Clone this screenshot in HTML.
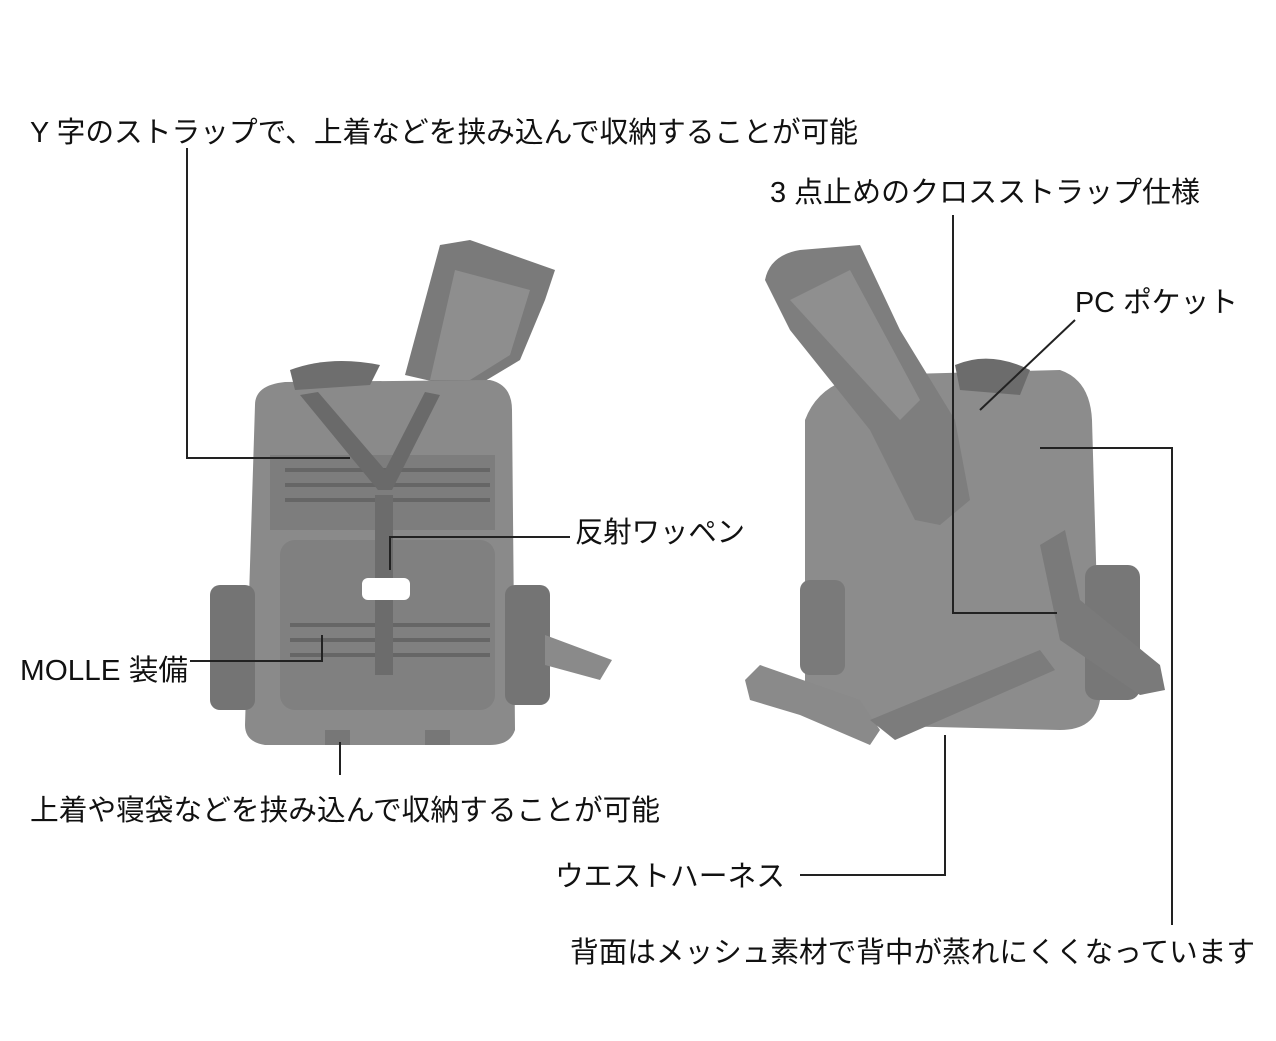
<!DOCTYPE html>
<html><head><meta charset="utf-8"><style>
html,body{margin:0;padding:0;background:#fff;}
svg{display:block}
text{font-family:"Liberation Sans","Noto Sans CJK JP",sans-serif;fill:#111;}
</style></head><body>
<svg width="1276" height="1041" viewBox="0 0 1276 1041" xmlns="http://www.w3.org/2000/svg">
<g>
<path d="M405,375 L440,245 L470,240 L555,270 L545,300 L520,360 L470,390 Z" fill="#7a7a7a"/>
<path d="M430,380 L455,270 L530,290 L510,355 L470,380 Z" fill="#8e8e8e"/>
<path d="M255,405 Q255,385 285,382 L490,380 Q512,385 512,410 L515,730 Q510,745 490,745 L265,745 Q245,742 245,725 Z" fill="#8a8a8a"/>
<path d="M290,370 Q330,355 380,365 L370,385 L295,390 Z" fill="#6e6e6e"/>
<rect x="270" y="455" width="225" height="75" fill="#7d7d7d"/>
<rect x="280" y="540" width="215" height="170" rx="15" fill="#808080"/>
<rect x="210" y="585" width="45" height="125" rx="10" fill="#747474"/>
<rect x="505" y="585" width="45" height="120" rx="10" fill="#747474"/>
<path d="M545,635 L612,660 L600,680 L545,665 Z" fill="#8a8a8a"/>
<g stroke="#666" stroke-width="4">
<line x1="285" y1="470" x2="490" y2="470"/><line x1="285" y1="485" x2="490" y2="485"/><line x1="285" y1="500" x2="490" y2="500"/>
<line x1="290" y1="625" x2="490" y2="625"/><line x1="290" y1="640" x2="490" y2="640"/><line x1="290" y1="655" x2="490" y2="655"/>
</g>
<path d="M300,395 L378,490 L392,490 L440,395 L425,392 L385,470 L318,392 Z" fill="#6a6a6a"/>
<rect x="375" y="495" width="18" height="180" fill="#6c6c6c"/>
<rect x="362" y="578" width="48" height="22" rx="6" fill="#fff"/>
<rect x="325" y="730" width="25" height="15" fill="#777"/><rect x="425" y="730" width="25" height="15" fill="#777"/>
</g>
<g>
<path d="M805,420 Q820,380 870,375 L1060,370 Q1090,380 1092,420 L1100,700 Q1095,730 1060,730 L850,725 Q810,715 805,690 Z" fill="#8c8c8c"/>
<path d="M765,280 Q770,255 800,250 L860,245 L900,330 L955,420 L970,500 L940,525 L915,520 L870,430 L790,330 Z" fill="#7e7e7e"/>
<path d="M790,300 L850,270 L920,400 L900,420 Z" fill="#8f8f8f"/>
<path d="M955,365 Q990,350 1030,370 L1020,395 L960,390 Z" fill="#6c6c6c"/>
<rect x="1085" y="565" width="55" height="135" rx="12" fill="#777"/>
<path d="M1040,545 L1065,530 L1080,600 L1160,665 L1165,690 L1140,695 L1060,640 Z" fill="#7a7a7a"/>
<path d="M745,680 L760,665 L860,700 L880,730 L870,745 L800,715 L750,700 Z" fill="#8a8a8a"/>
<path d="M870,720 L1040,650 L1055,670 L895,740 Z" fill="#7c7c7c"/>
<rect x="800" y="580" width="45" height="95" rx="10" fill="#7a7a7a"/>
</g>
<g stroke="#222" stroke-width="2" fill="none">
<polyline points="187,148 187,458 350,458"/>
<polyline points="953,215 953,613 1057,613"/>
<line x1="1075" y1="320" x2="980" y2="410"/>
<polyline points="570,537 390,537 390,570"/>
<polyline points="190,661 322,661 322,635"/>
<line x1="340" y1="742" x2="340" y2="775"/>
<polyline points="800,875 945,875 945,735"/>
<polyline points="1040,448 1172,448 1172,925"/>
</g>
<text x="30" y="142" font-size="29" textLength="828" lengthAdjust="spacingAndGlyphs">Y 字のストラップで、上着などを挟み込んで収納することが可能</text>
<text x="770" y="202" font-size="29" textLength="430" lengthAdjust="spacingAndGlyphs">3 点止めのクロスストラップ仕様</text>
<text x="1075" y="312" font-size="29" textLength="163" lengthAdjust="spacingAndGlyphs">PC ポケット</text>
<text x="575" y="542" font-size="29" textLength="170" lengthAdjust="spacingAndGlyphs">反射ワッペン</text>
<text x="20" y="680" font-size="29" textLength="168" lengthAdjust="spacingAndGlyphs">MOLLE 装備</text>
<text x="30" y="820" font-size="29" textLength="630" lengthAdjust="spacingAndGlyphs">上着や寝袋などを挟み込んで収納することが可能</text>
<text x="555" y="886" font-size="29" textLength="230" lengthAdjust="spacingAndGlyphs">ウエストハーネス</text>
<text x="570" y="962" font-size="29" textLength="685" lengthAdjust="spacingAndGlyphs">背面はメッシュ素材で背中が蒸れにくくなっています</text>
</svg>
</body></html>
